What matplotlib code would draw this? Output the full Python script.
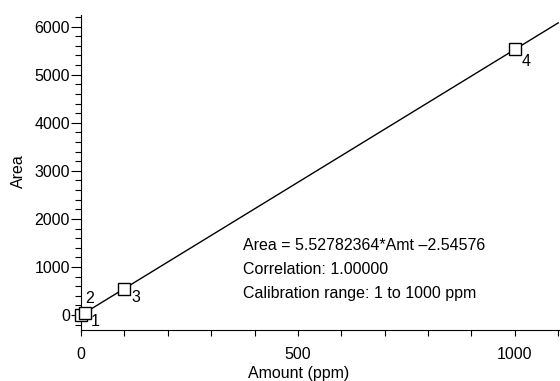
import matplotlib.pyplot as plt
import numpy as np
from matplotlib.ticker import MultipleLocator

plt.rcParams['font.family'] = ['Liberation Sans', 'DejaVu Sans']

amount = [1, 10, 100, 1000]
area = [3.0, 52.7, 550.2, 5525.3]
labels = ["1", "2", "3", "4"]
slope = 5.52782364
intercept = -2.54576
fit_x = [0, 1100]

fig = plt.figure(figsize=(5.6, 3.81), dpi=100)
ax = fig.add_axes([0.1446, 0.134, 0.8554, 0.834])

fx = np.array(fit_x)
ax.plot(fx, slope * fx + intercept, color="black", linewidth=1.0)
ax.plot(amount, area, linestyle="none", marker="s", markersize=9,
        markerfacecolor="white", markeredgecolor="black", markeredgewidth=1.0,
        clip_on=False, zorder=3)

offsets = [(7, -5), (0, 10), (5, -6.5), (5, -9)]
for x, y, lab, off in zip(amount, area, labels, offsets):
    ax.annotate(lab, (x, y), xytext=off, textcoords="offset points",
                fontsize=11.5, ha="left", va="center")

ax.set_xlim(0, 1104)
ax.set_ylim(-310, 6300)
ax.xaxis.set_major_locator(MultipleLocator(500))
ax.xaxis.set_minor_locator(MultipleLocator(100))
ax.yaxis.set_major_locator(MultipleLocator(1000))
ax.yaxis.set_minor_locator(MultipleLocator(200))
ax.tick_params(axis="x", which="both", direction="out", length=4, width=0.8, labelsize=11.5, pad=8)
ax.tick_params(axis="y", which="major", direction="out", length=7, width=0.8, labelsize=11.5, pad=1)
ax.tick_params(axis="y", which="minor", direction="out", length=4, width=0.8)

for s in ["top", "right"]:
    ax.spines[s].set_visible(False)
ax.spines["left"].set_bounds(-330, 6250)

ax.set_xlabel("Amount (ppm)", fontsize=11.5)
ax.xaxis.set_label_coords(0.455, -0.115)
ax.set_ylabel("Area", fontsize=11.5)
ax.yaxis.set_label_coords(-0.115, 0.5)

ax.text(0.338, 0.19, "Area = 5.52782364*Amt \u20132.54576\nCorrelation: 1.00000\nCalibration range: 1 to 1000 ppm",
        transform=ax.transAxes, fontsize=11.5, linespacing=1.75, va="center", ha="left")

fig.savefig("out.png", dpi=100)
